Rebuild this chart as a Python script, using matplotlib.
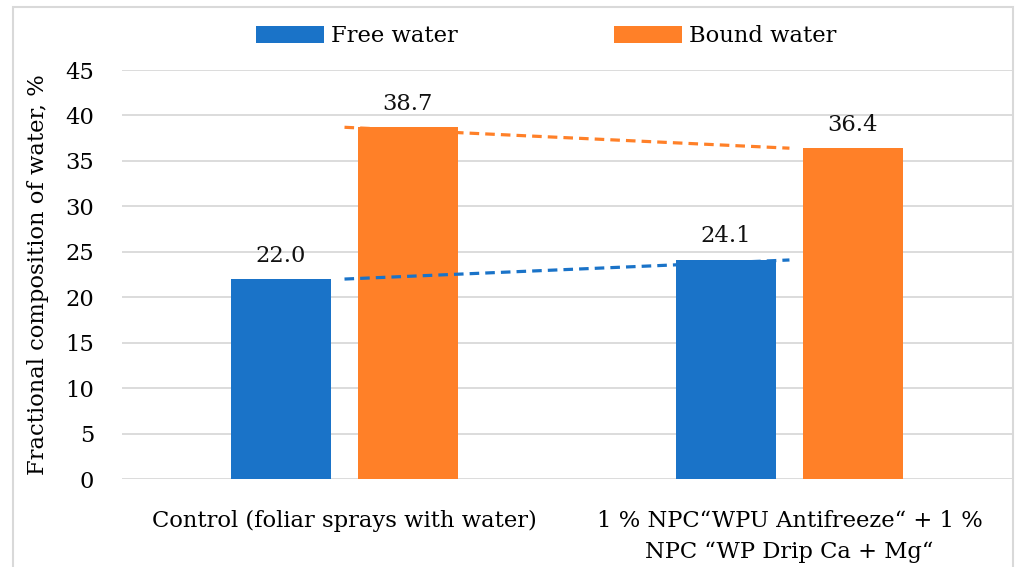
import numpy as np
import matplotlib
matplotlib.use("Agg")
import matplotlib.pyplot as plt
from matplotlib.patches import Rectangle

# data
categories = ["Control (foliar sprays with water)",
              "1 % NPC\u201cWPU Antifreeze\u201c + 1 %\nNPC \u201cWP Drip Ca + Mg\u201c"]
free_water = [22.0, 24.1]
bound_water = [38.7, 36.4]
series_names = ["Free water", "Bound water"]
colors = ["#1A73C8", "#FF8028"]

plt.rcParams['font.family'] = ['DejaVu Serif']
fs = 16.3

fig = plt.figure(figsize=(10.17, 5.67), dpi=100)
ax = fig.add_axes([0.12, 0.1552, 0.875, 0.7213])

x = np.arange(len(categories))
w = 0.225
off = 0.1425
b1 = ax.bar(x - off, free_water, w, color=colors[0], label=series_names[0], zorder=2)
b2 = ax.bar(x + off, bound_water, w, color=colors[1], label=series_names[1], zorder=2)

for bars, vals in [(b1, free_water), (b2, bound_water)]:
    for rect, v in zip(bars, vals):
        ax.annotate(f"{v:.1f}", (rect.get_x() + rect.get_width() / 2, v),
                    xytext=(0, 9), textcoords="offset points",
                    ha="center", va="bottom", fontsize=fs, color="#111111")

# linear trendlines (Excel style), drawn between category centres
for vals, c in [(free_water, colors[0]), (bound_water, colors[1])]:
    k, b = np.polyfit(x, vals, 1)
    ax.plot(x, k * x + b, color=c, lw=2.3, dashes=(3.0, 1.9), zorder=3,
            solid_capstyle="butt")

ax.set_xlim(-0.5, 1.5)
ax.set_ylim(0, 45)
ax.set_yticks(np.arange(0, 46, 5))
ax.set_xticks(x)
ax.set_xticklabels(categories, fontsize=fs, linespacing=1.55)
ax.tick_params(axis="y", labelsize=fs, length=0, pad=20)
ax.tick_params(axis="x", length=0, pad=22)
ax.grid(axis="y", color="#D9D9D9", lw=1.3, zorder=0)
for s in ax.spines.values():
    s.set_visible(False)
ax.set_ylabel("Fractional composition of water, %", fontsize=fs, labelpad=12)

fig.legend(loc="center", bbox_to_anchor=(0.537, 0.936), ncol=2, frameon=False,
           fontsize=fs, handlelength=3.0, handleheight=0.8, columnspacing=6.9,
           handletextpad=0.3)

# light frame around the chart area
fig.add_artist(Rectangle((0.0128, -0.05), 0.983, 1.0377, transform=fig.transFigure,
                         fill=False, edgecolor="#D9D9D9", lw=1.5))

fig.savefig("out.png", dpi=100)
